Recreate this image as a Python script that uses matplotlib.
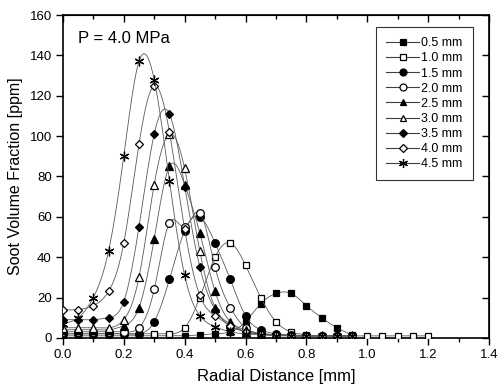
import numpy as np
import matplotlib
matplotlib.use('Agg')
import matplotlib.pyplot as plt

plt.rcParams['font.family'] = ['Liberation Sans', 'DejaVu Sans']

# radial positions [mm]
r = [0.0, 0.05, 0.1, 0.15, 0.2, 0.25, 0.3, 0.35, 0.4, 0.45,
     0.5, 0.55, 0.6, 0.65, 0.7, 0.75, 0.8, 0.85, 0.9, 0.95]
r_long = r + [1.0, 1.05, 1.1, 1.15, 1.2]

labels = ['0.5 mm', '1.0 mm', '1.5 mm', '2.0 mm', '2.5 mm',
          '3.0 mm', '3.5 mm', '4.0 mm', '4.5 mm']

fv_05 = [1, 1, 1, 1, 1, 1, 1, 1, 1, 1.5, 2, 3, 8, 17, 22, 22, 16, 10, 5, 1.5]
fv_10 = [2, 2, 2, 2, 2, 2, 2, 2, 5, 20, 40, 47, 36, 20, 8, 3, 1.5,
         1, 1, 1, 1, 1, 1, 1, 1]
fv_15 = [2, 2, 2, 2, 2, 2, 8, 29, 53, 60, 47, 29, 11, 4, 2, 1.5, 1, 1, 1, 1]
fv_20 = [3, 3, 3, 3, 3, 5, 24, 57, 55, 62, 35, 15, 5, 2, 1.5, 1, 1, 1, 1, 1]
fv_25 = [4, 4, 4, 4, 6, 15, 49, 85, 76, 52, 23, 8, 4, 2, 1.5, 1, 1, 1, 1, 1]
fv_30 = [5, 5, 5, 5, 9, 30, 76, 101, 84, 43, 15, 7, 3, 2, 1.5, 1, 1, 1, 1, 1]
fv_35 = [9, 9, 9, 10, 18, 55, 101, 111, 75, 35, 14, 6, 3, 2, 1.5, 1, 1, 1, 1, 1]
fv_40 = [14, 14, 16, 23, 47, 96, 125, 102, 54, 21, 11, 6, 3, 2, 1.5, 1, 1, 1, 1, 1]
fv_45 = [7, 10, 20, 43, 90, 137, 128, 78, 31, 11, 5.5, 3, 2, 1.5, 1, 1, 1, 1, 1, 1]

series = [(r, fv_05), (r_long, fv_10), (r, fv_15), (r, fv_20), (r, fv_25),
          (r, fv_30), (r, fv_35), (r, fv_40), (r, fv_45)]
markers = ['s', 's', 'o', 'o', '^', '^', 'D', 'D', (6, 2, 0)]
filled = [True, False, True, False, True, False, True, False, True]
msizes = [5, 5, 5.5, 5.5, 5.5, 5.5, 4.5, 4.5, 7]


def spline(x, y, n=20):
    # natural cubic spline through the points
    x = np.asarray(x, float)
    y = np.asarray(y, float)
    m = len(x)
    h = np.diff(x)
    A = np.zeros((m, m))
    b = np.zeros(m)
    A[0, 0] = A[-1, -1] = 1
    for i in range(1, m - 1):
        A[i, i - 1] = h[i - 1]
        A[i, i] = 2 * (h[i - 1] + h[i])
        A[i, i + 1] = h[i]
        b[i] = 3 * ((y[i + 1] - y[i]) / h[i] - (y[i] - y[i - 1]) / h[i - 1])
    c = np.linalg.solve(A, b)
    xs, ys = [], []
    for i in range(m - 1):
        t = np.linspace(0, h[i], n, endpoint=False)
        bi = (y[i + 1] - y[i]) / h[i] - h[i] * (2 * c[i] + c[i + 1]) / 3
        di = (c[i + 1] - c[i]) / (3 * h[i])
        xs.append(x[i] + t)
        ys.append(y[i] + bi * t + c[i] * t ** 2 + di * t ** 3)
    xs.append([x[-1]])
    ys.append([y[-1]])
    return np.concatenate(xs), np.concatenate(ys)


fig = plt.figure(figsize=(4.99, 3.87), dpi=100)
ax = fig.add_axes([0.126, 0.127, 0.854, 0.834])

handles = []
for k, (xx, yy) in enumerate(series):
    sx, sy = spline(xx, yy)
    ax.plot(sx, sy, color='0.35', linewidth=0.6, zorder=2 + 2 * k)
    ax.plot(xx, yy, linestyle='none', marker=markers[k], markersize=msizes[k],
            markerfacecolor='black' if filled[k] else 'white',
            markeredgecolor='black', markeredgewidth=0.9, zorder=3 + 2 * k)
    h, = ax.plot([], [], color='0.25', linewidth=0.8, marker=markers[k],
                 markersize=msizes[k] - 0.5,
                 markerfacecolor='black' if filled[k] else 'white',
                 markeredgecolor='black', markeredgewidth=0.9, label=labels[k])
    handles.append(h)

ax.set_xlim(0, 1.4)
ax.set_ylim(0, 160)
ax.set_xticks(np.arange(0, 1.41, 0.2))
ax.set_xticks(np.arange(0.1, 1.4, 0.2), minor=True)
ax.set_yticks(np.arange(0, 161, 20))
ax.xaxis.set_major_formatter(matplotlib.ticker.FormatStrFormatter('%.1f'))
ax.tick_params(axis='both', which='major', direction='out', length=5,
               width=1, labelsize=9.5, pad=3)
ax.tick_params(axis='x', which='minor', direction='out', length=3, width=1)
for s in ax.spines.values():
    s.set_linewidth(1.2)

top = ax.secondary_xaxis('top')
top.set_xticks(np.arange(0, 1.41, 0.2))
top.set_xticks(np.arange(0.1, 1.4, 0.2), minor=True)
top.tick_params(which='major', direction='in', length=5, width=1, labeltop=False)
top.tick_params(which='minor', direction='in', length=3, width=1)
right = ax.secondary_yaxis('right')
right.set_yticks(np.arange(0, 161, 20))
right.tick_params(direction='in', length=5, width=1, labelright=False)

ax.set_xlabel('Radial Distance [mm]', fontsize=12, labelpad=6)
ax.set_ylabel('Soot Volume Fraction [ppm]', fontsize=11.5, labelpad=5)
ax.text(0.035, 0.927, 'P = 4.0 MPa', transform=ax.transAxes,
        fontsize=12, va='center', ha='left')

leg = ax.legend(handles=handles, loc='upper right', bbox_to_anchor=(0.962, 0.962),
                borderaxespad=0, fontsize=9, frameon=True, fancybox=False,
                edgecolor='black', labelspacing=0.25, handlelength=2.6,
                handletextpad=0.2, borderpad=0.8)
leg.get_frame().set_linewidth(0.8)

plt.savefig('out.png', dpi=100)
